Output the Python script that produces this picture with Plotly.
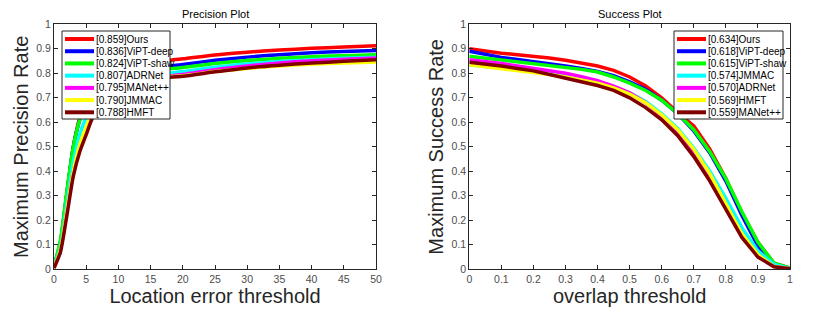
import plotly.graph_objects as go

# ---------------- data ----------------
prec_thr = [0, 1, 2, 3, 4, 5, 6, 8, 10, 12, 15, 20, 25, 30, 35, 40, 45, 50]
prec_names = ["Ours", "ViPT-deep", "ViPT-shaw", "ADRNet", "MANet++", "JMMAC", "HMFT"]
prec_scores = ["0.859", "0.836", "0.824", "0.807", "0.795", "0.790", "0.788"]
prec_ours = [0.01, 0.11, 0.31, 0.50, 0.62, 0.69, 0.73, 0.78, 0.81, 0.83, 0.845, 0.859, 0.875, 0.886, 0.895, 0.902, 0.907, 0.912]
prec_vipt_deep = [0.01, 0.11, 0.31, 0.50, 0.61, 0.68, 0.72, 0.76, 0.79, 0.805, 0.82, 0.836, 0.853, 0.866, 0.876, 0.884, 0.889, 0.893]
prec_vipt_shaw = [0.01, 0.12, 0.32, 0.50, 0.61, 0.67, 0.71, 0.75, 0.78, 0.795, 0.81, 0.824, 0.84, 0.852, 0.861, 0.868, 0.872, 0.876]
prec_adrnet = [0.01, 0.09, 0.27, 0.44, 0.55, 0.62, 0.67, 0.72, 0.755, 0.775, 0.79, 0.807, 0.825, 0.838, 0.848, 0.855, 0.861, 0.866]
prec_manet = [0.005, 0.08, 0.24, 0.40, 0.50, 0.57, 0.63, 0.70, 0.745, 0.765, 0.78, 0.795, 0.815, 0.83, 0.842, 0.851, 0.857, 0.862]
prec_jmmac = [0.005, 0.08, 0.24, 0.40, 0.51, 0.58, 0.64, 0.71, 0.75, 0.77, 0.78, 0.79, 0.807, 0.82, 0.83, 0.837, 0.842, 0.846]
prec_hmft = [0.005, 0.07, 0.22, 0.38, 0.48, 0.55, 0.62, 0.70, 0.745, 0.765, 0.778, 0.788, 0.806, 0.822, 0.833, 0.842, 0.849, 0.855]

succ_thr = [0, 0.05, 0.1, 0.15, 0.2, 0.25, 0.3, 0.35, 0.4, 0.45, 0.5, 0.55, 0.6, 0.65, 0.7, 0.75, 0.8, 0.85, 0.9, 0.95, 1.0]
succ_names = ["Ours", "ViPT-deep", "ViPT-shaw", "JMMAC", "ADRNet", "HMFT", "MANet++"]
succ_scores = ["0.634", "0.618", "0.615", "0.574", "0.570", "0.569", "0.559"]
succ_ours = [0.90, 0.89, 0.882, 0.876, 0.87, 0.862, 0.853, 0.843, 0.83, 0.812, 0.785, 0.748, 0.70, 0.64, 0.585, 0.49, 0.37, 0.23, 0.11, 0.025, 0.005]
succ_vipt_deep = [0.89, 0.876, 0.865, 0.856, 0.848, 0.84, 0.83, 0.82, 0.808, 0.79, 0.765, 0.735, 0.69, 0.635, 0.565, 0.475, 0.36, 0.22, 0.095, 0.02, 0.003]
succ_vipt_shaw = [0.87, 0.862, 0.855, 0.848, 0.84, 0.833, 0.825, 0.816, 0.805, 0.785, 0.76, 0.73, 0.69, 0.635, 0.57, 0.48, 0.37, 0.235, 0.11, 0.025, 0.005]
succ_jmmac = [0.835, 0.828, 0.822, 0.816, 0.81, 0.8, 0.79, 0.778, 0.765, 0.745, 0.72, 0.685, 0.635, 0.575, 0.495, 0.40, 0.29, 0.17, 0.075, 0.02, 0.003]
succ_adrnet = [0.855, 0.848, 0.84, 0.83, 0.82, 0.81, 0.80, 0.786, 0.77, 0.748, 0.72, 0.68, 0.625, 0.56, 0.475, 0.375, 0.26, 0.135, 0.055, 0.012, 0.002]
succ_hmft = [0.835, 0.827, 0.82, 0.812, 0.805, 0.795, 0.785, 0.773, 0.76, 0.74, 0.715, 0.68, 0.63, 0.57, 0.49, 0.39, 0.27, 0.145, 0.06, 0.012, 0.002]
succ_manet = [0.845, 0.838, 0.83, 0.82, 0.81, 0.795, 0.78, 0.765, 0.75, 0.73, 0.70, 0.66, 0.61, 0.545, 0.46, 0.36, 0.245, 0.13, 0.05, 0.01, 0.002]

rank_colors = ["#FF0000", "#0000FF", "#00FF00", "#00FFFF", "#FF00FF", "#FFFF00", "#800000"]

prec_series = [prec_ours, prec_vipt_deep, prec_vipt_shaw, prec_adrnet, prec_manet, prec_jmmac, prec_hmft]
succ_series = [succ_ours, succ_vipt_deep, succ_vipt_shaw, succ_jmmac, succ_adrnet, succ_hmft, succ_manet]

FONT = "Liberation Sans, Arial, sans-serif"
TXT = "#262626"
TICK = "#4d4d4d"

fig = go.Figure()
for name, sc, ys, col in zip(prec_names, prec_scores, prec_series, rank_colors):
    fig.add_trace(go.Scatter(x=prec_thr, y=ys, mode="lines", name=f"[{sc}]{name}",
                             line=dict(color=col, width=3.5, shape="spline", smoothing=0.6),
                             xaxis="x", yaxis="y", showlegend=False))
for name, sc, ys, col in zip(succ_names, succ_scores, succ_series, rank_colors):
    fig.add_trace(go.Scatter(x=succ_thr, y=ys, mode="lines", name=f"[{sc}]{name}",
                             line=dict(color=col, width=3.5),
                             xaxis="x2", yaxis="y2", showlegend=False))

# page body has an 8px margin; figure is sized/positioned to compensate
OFF = 8
W, H = 830 - OFF, 312 - OFF


def px2dx(p):
    return (p - OFF) / W


def py2dy(p):
    return 1 - (p - OFF) / H


ax_common = dict(showline=True, linecolor=TXT, linewidth=1, mirror="ticks", ticks="inside",
                 ticklen=4, tickcolor=TXT, showgrid=False, zeroline=False, automargin=False,
                 tickfont=dict(family=FONT, size=10.5, color=TICK))
YDOM = [py2dy(269.3), py2dy(24.3)]
XDOM1 = [px2dx(54), px2dx(376)]
XDOM2 = [px2dx(469.3), px2dx(790)]
fig.update_layout(
    width=W, height=H, margin=dict(l=0, r=0, t=0, b=0, autoexpand=False),
    paper_bgcolor="white", plot_bgcolor="white",
    xaxis=dict(domain=XDOM1, range=[0, 50], dtick=5, anchor="y",
               title=dict(text="Location error threshold", font=dict(family=FONT, size=20, color=TXT), standoff=4),
               **ax_common),
    yaxis=dict(domain=YDOM, range=[0, 1], dtick=0.1, anchor="x",
               title=dict(text="Maximum Precision Rate", font=dict(family=FONT, size=20, color=TXT), standoff=2),
               **ax_common),
    xaxis2=dict(domain=XDOM2, range=[0, 1], dtick=0.1, anchor="y2",
                title=dict(text="overlap threshold", font=dict(family=FONT, size=20, color=TXT), standoff=4),
                **ax_common),
    yaxis2=dict(domain=YDOM, range=[0, 1], dtick=0.1, anchor="x2",
                title=dict(text="Maximum Success Rate", font=dict(family=FONT, size=20, color=TXT), standoff=2),
                **ax_common),
)

# plot titles
for xa, ya, txt in [("x", "y", "Precision Plot"), ("x2", "y2", "Success Plot")]:
    fig.add_annotation(xref=f"{xa} domain", yref=f"{ya} domain", x=0.5, y=1.0, yshift=2,
                       xanchor="center", yanchor="bottom", showarrow=False,
                       text=txt, font=dict(family=FONT, size=11, color="black"))


# legends (drawn as boxes with sample lines and labels)
def add_legend(names, scores, x0, x1, y0, y1, lx0, lx1, tx, ey0, ey1):
    fig.add_shape(type="rect", xref="paper", yref="paper",
                  x0=px2dx(x0), x1=px2dx(x1), y0=py2dy(y1), y1=py2dy(y0),
                  line=dict(color=TXT, width=1), fillcolor="white", layer="above")
    n = len(names)
    for i, (nm, sc, col) in enumerate(zip(names, scores, rank_colors)):
        ey = ey0 + (ey1 - ey0) * i / (n - 1)
        fig.add_shape(type="line", xref="paper", yref="paper",
                      x0=px2dx(lx0), x1=px2dx(lx1), y0=py2dy(ey), y1=py2dy(ey),
                      line=dict(color=col, width=4), layer="above")
        fig.add_annotation(xref="paper", yref="paper", x=px2dx(tx), y=py2dy(ey),
                           xanchor="left", yanchor="middle", showarrow=False,
                           xshift=-1, text=f"[{sc}]{nm}",
                           font=dict(family=FONT, size=10, color="black"))


add_legend(prec_names, prec_scores, 62, 170, 31, 119, 65, 94, 95, 39, 112.3)
add_legend(succ_names, succ_scores, 674, 783, 31, 119, 677, 706, 707, 39, 112.3)

fig.write_html("out.html")
